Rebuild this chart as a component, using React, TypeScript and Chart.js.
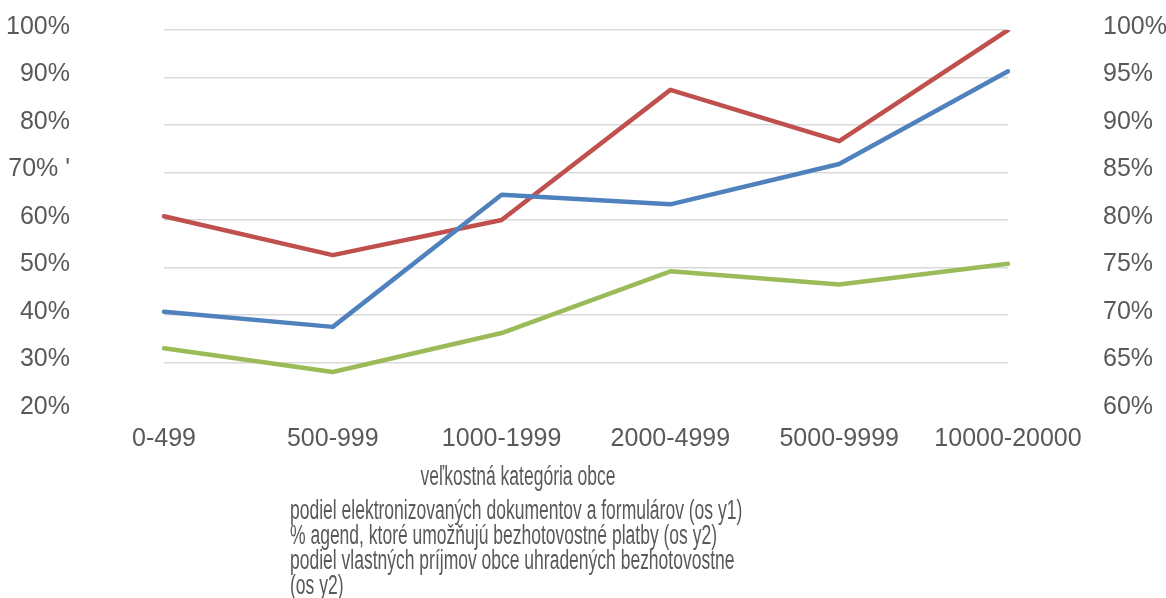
import React, { useEffect, useRef } from 'react';
import { Chart, registerables } from 'chart.js';

Chart.register(...registerables);

const categories = ['0-499', '500-999', '1000-1999', '2000-4999', '5000-9999', '10000-20000'];
const elektronizovane = [40.7, 37.5, 65.3, 63.3, 71.8, 91.3];
const agendy = [80.4, 76.3, 80.0, 93.7, 88.3, 100];
const prijmy = [66.5, 64.0, 68.1, 74.6, 73.2, 75.4];

const leftTickLabels = ['20%', '30%', '40%', '50%', '60%', "70% '", '80%', '90%', '100%'];
const rightTickLabels = ['60%', '65%', '70%', '75%', '80%', '85%', '90%', '95%', '100%'];

const seriesLabels = [
  'podiel elektronizovaných dokumentov a formulárov (os y1)',
  '% agend, ktoré umožňujú bezhotovostné platby (os y2)',
  'podiel vlastných príjmov obce uhradených bezhotovostne (os y2)',
];
const xTitle = 'veľkostná kategória obce';

const TEXT = '#595959';
const W = 1166;
const H = 620;
const CLEAR = 'rgba(0,0,0,0)';

const bottomTextPlugin = {
  id: 'bottomText',
  afterDraw(chart: any) {
    const ctx = chart.ctx;
    ctx.save();
    ctx.fillStyle = TEXT;
    ctx.font = '27px "Liberation Sans", Arial, sans-serif';
    ctx.textBaseline = 'middle';
    ctx.textAlign = 'left';
    const sx = 0.648;
    const drawText = (t: string, x: number, y: number) => {
      ctx.save();
      ctx.translate(x, y);
      ctx.scale(sx, 1);
      ctx.fillText(t, 0, 0);
      ctx.restore();
    };
    const tw = ctx.measureText(xTitle).width * sx;
    drawText(xTitle, 518 - tw / 2, 478);
    let y = 512;
    const maxW = 470;
    chart.data.datasets.forEach((ds: any) => {
      const words = String(ds.label).split(' ');
      let line = '';
      const lines: string[] = [];
      words.forEach((w: string) => {
        const test = line ? line + ' ' + w : w;
        if (ctx.measureText(test).width * sx > maxW && line) {
          lines.push(line);
          line = w;
        } else {
          line = test;
        }
      });
      if (line) lines.push(line);
      lines.forEach((l) => {
        drawText(l, 290, y);
        y += 25;
      });
    });
    ctx.restore();
  },
};

export default function App() {
  const ref = useRef<HTMLCanvasElement>(null);
  useEffect(() => {
    document.body.style.margin = '0';
    const tickFont = { family: '"Liberation Sans", Arial, sans-serif', size: 25 };
    const lineStyle = {
      borderWidth: 4.5,
      pointRadius: 0,
      tension: 0,
      borderJoinStyle: 'round',
      borderCapStyle: 'round',
    };
    const chart = new Chart(ref.current as HTMLCanvasElement, {
      type: 'line',
      data: {
        labels: categories,
        datasets: [
          {
            label: seriesLabels[0],
            data: elektronizovane,
            borderColor: '#4F81BD',
            backgroundColor: '#4F81BD',
            yAxisID: 'y',
            ...lineStyle,
          },
          {
            label: seriesLabels[1],
            data: agendy,
            borderColor: '#C0504D',
            backgroundColor: '#C0504D',
            yAxisID: 'y2',
            ...lineStyle,
          },
          {
            label: seriesLabels[2],
            data: prijmy,
            borderColor: '#9BBB59',
            backgroundColor: '#9BBB59',
            yAxisID: 'y2',
            ...lineStyle,
          },
        ],
      },
      options: {
        responsive: false,
        animation: false,
        layout: { padding: { top: 30, left: 0, right: 0, bottom: 0 } },
        plugins: {
          legend: { display: false },
          tooltip: { enabled: false },
        },
        scales: {
          x: {
            offset: false,
            grid: { display: false },
            border: { display: false },
            ticks: {
              color: TEXT,
              font: tickFont,
              maxRotation: 0,
              autoSkip: false,
              padding: 6,
            },
            afterFit: (s: any) => {
              s.height = H - 410;
            },
          },
          y: {
            position: 'left',
            min: 20,
            max: 100,
            border: { display: false },
            grid: {
              drawTicks: true,
              tickLength: 90,
              tickColor: CLEAR,
              lineWidth: 1.5,
              color: (c: any) => (c.index === 0 ? CLEAR : '#d9d9d9'),
            },
            ticks: {
              stepSize: 10,
              color: TEXT,
              font: tickFont,
              padding: 4,
              labelOffset: -3,
              callback: (_v: any, i: number) => leftTickLabels[i],
            },
            afterFit: (s: any) => {
              s.width = 164;
            },
          },
          y2: {
            position: 'right',
            min: 60,
            max: 100,
            border: { display: false },
            grid: {
              display: true,
              drawOnChartArea: false,
              drawTicks: true,
              tickLength: 91,
              tickColor: CLEAR,
              color: CLEAR,
            },
            ticks: {
              stepSize: 5,
              color: TEXT,
              font: tickFont,
              padding: 4,
              labelOffset: -3,
              callback: (_v: any, i: number) => rightTickLabels[i],
            },
            afterFit: (s: any) => {
              s.width = W - 1008;
            },
          },
        },
      },
      plugins: [bottomTextPlugin],
    } as any);
    return () => chart.destroy();
  }, []);
  return (
    <div style={{ width: W, height: H }}>
      <canvas ref={ref} width={W} height={H} />
    </div>
  );
}
